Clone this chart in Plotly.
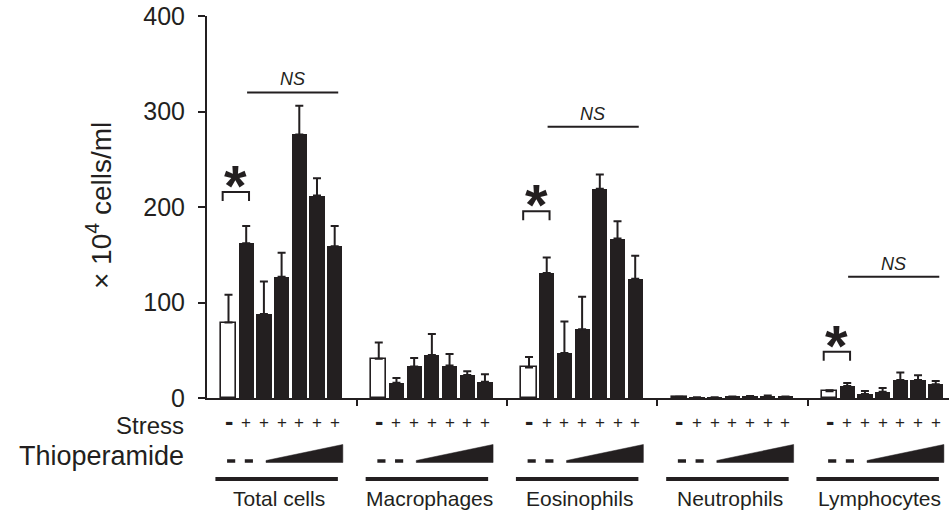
import plotly.graph_objects as go

# ---------------- data ----------------
groups = ["Total cells", "Macrophages", "Eosinophils", "Neutrophils", "Lymphocytes"]
stress = ["-", "+", "+", "+", "+", "+", "+"]

total_cells = [79, 162, 88, 127, 276, 212, 159]
total_err = [29, 18, 34, 25, 30, 18, 21]
macrophages = [41, 16, 33, 45, 34, 24, 17]
macro_err = [17, 5, 9, 22, 12, 4, 8]
eosinophils = [32, 131, 47, 72, 219, 167, 125]
eos_err = [11, 16, 33, 34, 15, 18, 24]
neutrophils = [1.0, 0.5, 0.6, 1.2, 1.5, 1.8, 1.3]
neut_err = [0.3, 0.2, 0.2, 0.5, 0.5, 0.7, 0.3]
lymphocytes = [7, 12.6, 4.2, 6.6, 18.8, 18.8, 14.3]
lymph_err = [1.2, 3, 3, 4, 8, 5, 3.5]

sig_groups = [0, 2, 4]            # groups with "*" bracket (control vs stress)
sig_bracket_y = [215.7, 195.5, 48.5]
ns_groups = [0, 2, 4]
ns_line_y = [320, 284, 127]

y_ticks = [0, 100, 200, 300, 400]

# ---------------- layout helpers ----------------
INK = "#231f20"
FONT = "Liberation Sans, Arial, sans-serif"
GP = 8.49          # group pitch in bar slots
BW = 0.86          # bar width
series = [total_cells, macrophages, eosinophils, neutrophils, lymphocytes]
errors = [total_err, macro_err, eos_err, neut_err, lymph_err]

xs, ys, es, fills, lws = [], [], [], [], []
for g, (vals, errs) in enumerate(zip(series, errors)):
    for i, (v, e) in enumerate(zip(vals, errs)):
        xs.append(g * GP + i)
        ys.append(v)
        es.append(e)
        fills.append("white" if i == 0 else INK)
        lws.append(1.6 if i == 0 else 0)

fig = go.Figure()
fig.add_trace(go.Bar(
    x=xs, y=ys, width=BW,
    marker=dict(color=fills, line=dict(color=INK, width=lws)),
    error_y=dict(type="data", symmetric=False, array=es, arrayminus=[0] * len(es),
                 color=INK, thickness=2, width=4),
    showlegend=False, hoverinfo="skip",
))

annotations = []
# bottom annotation subplot (y2 in pixel-like units: 398 at axis, 512 at bottom)
for g in range(len(groups)):
    base = g * GP
    for i, s in enumerate(stress):
        if s == "-":
            annotations.append(dict(x=base + i, y=421, xref="x", yref="y2", text="<b>-</b>",
                                    showarrow=False, font=dict(family=FONT, size=25, color=INK),
                                    xanchor="center", yanchor="middle"))
        else:
            annotations.append(dict(x=base + i, y=422, xref="x", yref="y2", text="+",
                                    showarrow=False, font=dict(family=FONT, size=17, color=INK),
                                    xanchor="center", yanchor="middle"))
    # two dashes for no thioperamide
    for i in range(2):
        fig.add_trace(go.Scatter(x=[base + i - 0.08, base + i + 0.38], y=[461, 461], xaxis="x", yaxis="y2",
                                 mode="lines", line=dict(color=INK, width=3.5),
                                 showlegend=False, hoverinfo="skip"))
    # wedge for increasing dose
    fig.add_trace(go.Scatter(x=[base + 2.12, base + 6.46, base + 6.46, base + 2.12, base + 2.12],
                             y=[462.5, 462.5, 444.5, 460.5, 462.5], xaxis="x", yaxis="y2",
                             mode="lines", fill="toself", fillcolor=INK, line=dict(color=INK, width=0.5),
                             showlegend=False, hoverinfo="skip"))
    # group underline
    fig.add_trace(go.Scatter(x=[base - 0.74, base + 6.18], y=[479, 479], xaxis="x", yaxis="y2",
                             mode="lines", line=dict(color=INK, width=4),
                             showlegend=False, hoverinfo="skip"))

for g, name in enumerate(groups):
    annotations.append(dict(x=g * GP + 2.85, y=498, xref="x", yref="y2", text=name, showarrow=False,
                            font=dict(family=FONT, size=21, color=INK), xanchor="center", yanchor="middle"))

annotations.append(dict(x=-0.0285, y=425, xref="paper", yref="y2", text="Stress", showarrow=False,
                        font=dict(family=FONT, size=24, color=INK), xanchor="right", yanchor="middle"))
annotations.append(dict(x=-0.0285, y=456, xref="paper", yref="y2", text="Thioperamide", showarrow=False,
                        font=dict(family=FONT, size=27, color=INK), xanchor="right", yanchor="middle"))
annotations.append(dict(x=-0.1456, y=202, xref="paper", yref="y", text="× 10<sup>4</sup> cells/ml",
                        showarrow=False, textangle=-90,
                        font=dict(family=FONT, size=28, color=INK), xanchor="center", yanchor="middle"))

shapes = []
for g, yb in zip(sig_groups, sig_bracket_y):
    base = g * GP
    x0, x1 = base - 0.33, base + 1.16
    shapes.append(dict(type="path", xref="x", yref="y",
                       path=f"M {x0},{yb - 9.5} L {x0},{yb} L {x1},{yb} L {x1},{yb - 9.5}",
                       line=dict(color=INK, width=2)))
    annotations.append(dict(x=(x0 + x1) / 2, y=yb, xref="x", yref="y", text="<b>*</b>", showarrow=False,
                            font=dict(family=FONT, size=58, color=INK), xanchor="center",
                            yanchor="bottom", yshift=-28))
for g, yl in zip(ns_groups, ns_line_y):
    base = g * GP
    shapes.append(dict(type="line", xref="x", yref="y", x0=base + 1.05, x1=base + 6.2, y0=yl, y1=yl,
                       line=dict(color=INK, width=2)))
    annotations.append(dict(x=base + 3.6, y=yl, xref="x", yref="y", text="<i>NS</i>", showarrow=False,
                            font=dict(family=FONT, size=18, color=INK), xanchor="center",
                            yanchor="bottom", yshift=1))

bounds = [g * GP - 1.245 for g in range(len(groups))]

fig.update_layout(
    width=949, height=512,
    margin=dict(l=207, r=0, t=0, b=0, autoexpand=False),
    paper_bgcolor="white", plot_bgcolor="white",
    bargap=0,
    xaxis=dict(range=[-1.215, 40.71], domain=[0, 1], anchor="y", showline=True, linewidth=2,
               linecolor=INK, tickvals=bounds, ticks="outside", ticklen=6, tickwidth=2,
               tickcolor=INK, showticklabels=False, showgrid=False, zeroline=False, automargin=False),
    yaxis=dict(range=[0, 400], domain=[114 / 512, 496 / 512], anchor="x", showline=True, linewidth=2,
               linecolor=INK, tickvals=y_ticks, ticks="outside", ticklen=7, tickwidth=2,
               tickcolor=INK, showgrid=False, zeroline=False, ticklabelstandoff=8, automargin=False,
               tickfont=dict(family=FONT, size=25, color=INK)),
    yaxis2=dict(range=[512, 398], domain=[0, 114 / 512], anchor="x", visible=False,
                showgrid=False, zeroline=False, automargin=False),
    shapes=shapes, annotations=annotations,
)

fig.write_html("out.html")
